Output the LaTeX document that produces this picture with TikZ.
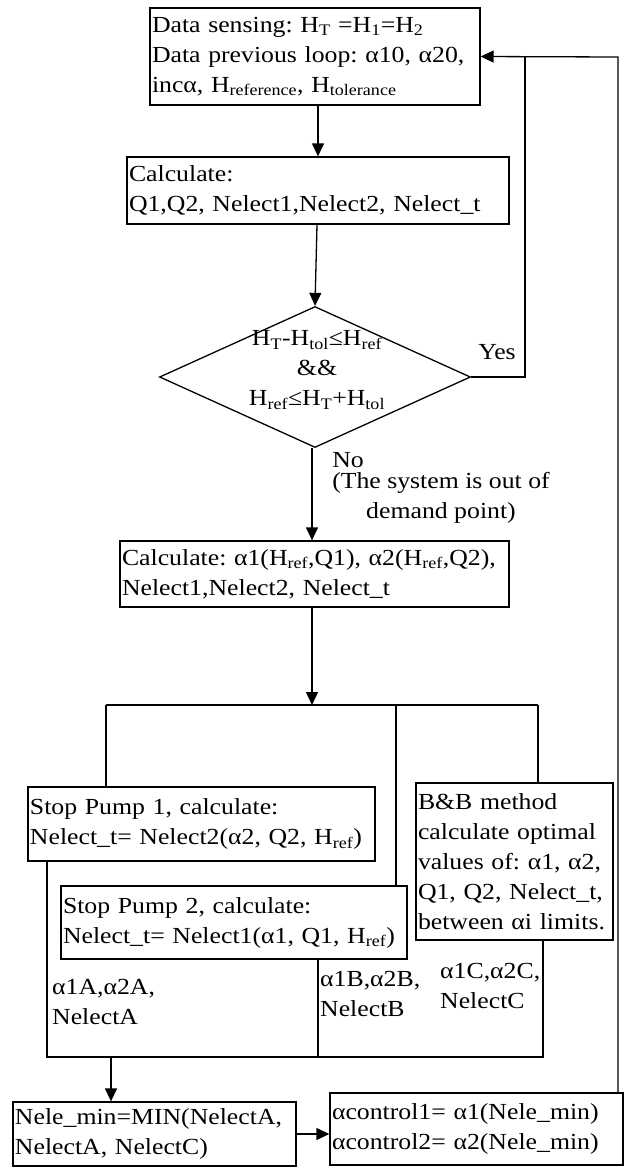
\documentclass[tikz,border=0pt]{standalone}
\usepackage{fontspec}
\setmainfont{Liberation Serif}[FakeStretch=1.12]
\usetikzlibrary{arrows.meta,shapes.geometric}
\newcommand{\sub}[1]{\textsubscript{#1}}
\frenchspacing
\tikzset{
  txt/.style={font=\fontsize{23}{30}\selectfont, inner sep=0pt},
  box/.style={draw, line width=1.3pt, txt, inner sep=2pt, align=left, anchor=center},
  conn/.style={line width=1.3pt},
  arr/.style={line width=1.3pt, -{Triangle[length=13pt,width=12pt]}}
}
\begin{document}
\begin{tikzpicture}[x=1pt,y=-1pt]
\useasboundingbox (0,0) rectangle (625,1168);
% boxes
\node[box, text width=326pt, minimum height=97pt] (b1) at (315,56.5)
  {Data sensing: H\sub{T} =H\sub{1}=H\sub{2}\\Data previous loop: α10, α20,\\incα, H\sub{reference}, H\sub{tolerance}};
\node[box, text width=378pt, minimum height=67pt] (b2) at (318,190.5)
  {Calculate:\\Q1,Q2, Nelect1,Nelect2, Nelect\_t};
\node[diamond, draw, line width=1.3pt, minimum width=311pt, minimum height=141pt, aspect=2.2, inner sep=0pt] (d) at (315,377) {};
\node[txt, align=center] (dt) at (317,370)
  {H\sub{T}-H\sub{tol}≤H\sub{ref}\\\&\&\\H\sub{ref}≤H\sub{T}+H\sub{tol}};
\node[box, text width=385pt, minimum height=66pt] (b3) at (314.5,574)
  {Calculate: α1(H\sub{ref},Q1), α2(H\sub{ref},Q2),\\Nelect1,Nelect2, Nelect\_t};
\node[box, text width=343pt, minimum height=74pt] (b4) at (201.5,824)
  {Stop Pump 1, calculate:\\Nelect\_t= Nelect2(α2, Q2, H\sub{ref})};
\node[box, text width=342pt, minimum height=73pt] (b5) at (234,922.5)
  {Stop Pump 2, calculate:\\Nelect\_t= Nelect1(α1, Q1, H\sub{ref})};
\node[box, text width=193pt, minimum height=157pt] (bb) at (514.5,861.5)
  {B\&B method\\calculate optimal\\values of: α1, α2,\\Q1, Q2, Nelect\_t,\\between αi limits.};
\node[box, text width=279pt, minimum height=64pt] (b6) at (154.5,1134)
  {Nele\_min=MIN(NelectA,\\NelectA, NelectC)};
\node[box, text width=289pt, minimum height=72pt] (b7) at (476.5,1129)
  {αcontrol1= α1(Nele\_min)\\αcontrol2= α2(Nele\_min)};
% labels
\node[txt] (yes) at (497,352) {Yes};
\node[txt] (no) at (348,460) {No};
\node[txt, align=center] (out) at (441,498) {(The system is out of\\demand point)};
\node[txt, align=left, anchor=west] (la) at (52,1002) {α1A,α2A,\\NelectA};
\node[txt, align=left, anchor=west] (lb) at (320,994) {α1B,α2B,\\NelectB};
\node[txt, align=left, anchor=west] (lc) at (440,986) {α1C,α2C,\\NelectC};
% coordinates
\coordinate (lr) at (618,57);
\coordinate (ly) at (525,57);
\coordinate (br) at (312,705);
\coordinate (bl) at (106,705);
\coordinate (bm) at (396,705);
\coordinate (bR) at (538,705);
\coordinate (cl) at (47,1057);
\coordinate (cm) at (318,1057);
\coordinate (cr) at (543,1057);
\coordinate (co) at (111,1057);
% connectors
\draw[arr] (b1.south -| 318,0) -- (b2.north -| 318,0);
\draw[arr] (b2.south -| 317,0) -- (d.north);
\draw[conn] (d.east) -| (ly);
\draw[arr] (b7.north -| lr) -- (lr) -- (b1.east);
\draw[arr] (d.south -| br) -- (b3.north -| br);
\draw[arr] (b3.south -| br) -- (br);
\draw[conn] (bl) -- (bR);
\draw[conn] (bl) -- (b4.north -| bl);
\draw[conn] (bm) -- (b5.north -| bm);
\draw[conn] (bR) -- (bb.north -| bR);
\draw[conn] (b4.south -| cl) -- (cl) -- (cr) -- (bb.south -| cr);
\draw[conn] (b5.south -| cm) -- (cm);
\draw[arr] (co) -- (b6.north -| co);
\draw[arr] (b6.east) -- (b7.west |- b6.east);
\end{tikzpicture}
\end{document}
